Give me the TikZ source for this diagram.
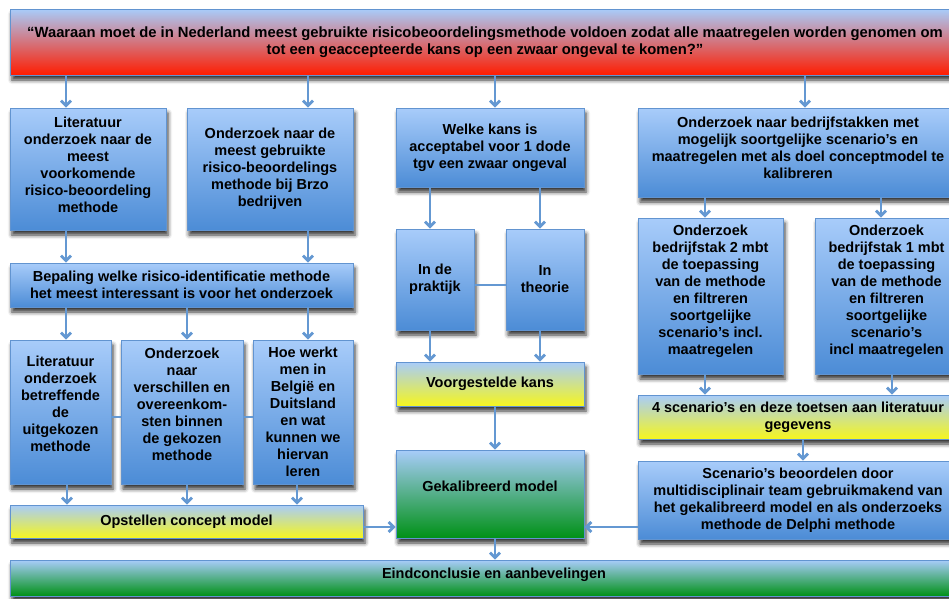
\documentclass[tikz,border=0pt]{standalone}
\usepackage{fontspec}
\setmainfont{Liberation Sans}
\usetikzlibrary{arrows.meta,shadows.blur}

\definecolor{btop}{RGB}{168,204,250}
\definecolor{bblue}{RGB}{76,140,214}
\definecolor{bred}{RGB}{255,28,0}
\definecolor{byel}{RGB}{246,246,30}
\definecolor{bgrn}{RGB}{0,145,22}
\definecolor{bdr}{RGB}{98,148,208}
\definecolor{arrc}{RGB}{100,152,210}

\newcommand\boxfont{\bfseries\fontsize{14.5}{17}\selectfont}
\newcommand\titlefont{\bfseries\fontsize{14.8}{17}\selectfont}

\tikzset{
  box/.style={draw=bdr, line width=0.7pt, inner sep=0pt, align=center, font=\boxfont,
    blur shadow={shadow xshift=2pt, shadow yshift=-5pt, shadow blur radius=4pt, shadow opacity=80}},
  bluebox/.style={box, top color=btop, bottom color=bblue},
  redbox/.style={box, top color=btop, bottom color=bred, font=\titlefont},
  yelbox/.style={box, top color=btop, bottom color=byel},
  grnbox/.style={box, top color=btop, bottom color=bgrn},
  txt/.style={align=center, font=\boxfont, inner sep=0pt},
  arr/.style={draw=arrc, line width=2.8pt, -{Straight Barb[length=5pt,width=10pt]}},
  lnk/.style={draw=arrc, line width=2.8pt},
}

\begin{document}
\begin{tikzpicture}[x=1pt,y=-1pt]
\useasboundingbox (0,0) rectangle (949,598);
\clip (0,0) rectangle (949,598);

% column and row guides for the connectors
\coordinate (k66) at (66,0);
\coordinate (k67) at (67,0);
\coordinate (k187) at (187,0);
\coordinate (k297) at (297,0);
\coordinate (k308) at (308,0);
\coordinate (k430) at (430,0);
\coordinate (k495) at (495,0);
\coordinate (k540) at (540,0);
\coordinate (k705) at (705,0);
\coordinate (k803) at (803,0);
\coordinate (k805) at (805,0);
\coordinate (k881) at (881,0);
\coordinate (k892) at (892,0);
\coordinate (r285) at (0,285);
\coordinate (r417) at (0,417);
\coordinate (r527) at (0,527);

% research question
\node[redbox, minimum width=950pt, minimum height=66pt] (vraag) at (485,42)
  {“Waaraan moet de in Nederland meest gebruikte risicobeoordelingsmethode voldoen zodat alle maatregelen worden genomen om\\
   tot een geaccepteerde kans op een zwaar ongeval te komen?”};

% left branch
\node[bluebox, minimum width=156pt, minimum height=122pt,
  label={[txt,yshift=4.5pt]center:{Literatuur\\onderzoek naar de\\meest\\voorkomende\\risico-beoordeling\\methode}}]
  (litmeest) at (88,169) {};
\node[bluebox, minimum width=166pt, minimum height=122pt] (brzo) at (270,169)
  {Onderzoek naar de\\meest gebruikte\\risico-beoordelings\\methode bij Brzo\\bedrijven};
\node[bluebox, minimum width=343pt, minimum height=44pt] (bepaling) at (181.5,285)
  {Bepaling welke risico-identificatie methode\\het meest interessant is voor het onderzoek};
\node[bluebox, minimum width=101pt, minimum height=144pt,
  label={[txt,yshift=8pt]center:{Literatuur\\onderzoek\\betreffende\\de\\uitgekozen\\methode}}]
  (litgekozen) at (60.5,412) {};
\node[bluebox, minimum width=122pt, minimum height=144pt,
  label={[txt,yshift=8pt]center:{Onderzoek\\naar\\verschillen en\\overeenkom-\\sten binnen\\de gekozen\\methode}}]
  (verschil) at (182,412) {};
\node[bluebox, minimum width=100pt, minimum height=144pt] (buitenland) at (303,412)
  {Hoe werkt\\men in\\België en\\Duitsland\\en wat\\kunnen we\\hiervan\\leren};
\node[yelbox, minimum width=353pt, minimum height=33pt] (concept) at (186.5,521.5)
  {Opstellen concept model};

% middle branch
\node[bluebox, minimum width=188pt, minimum height=79pt] (kans) at (490,147.5)
  {Welke kans is\\acceptabel voor 1 dode\\tgv een zwaar ongeval};
\node[bluebox, minimum width=78pt, minimum height=101pt] (praktijk) at (435,279.5)
  {In de\\praktijk};
\node[bluebox, minimum width=78pt, minimum height=101pt] (theorie) at (545,279.5)
  {In\\theorie};
\node[yelbox, minimum width=188pt, minimum height=44pt] (voorstel) at (490,384)
  {Voorgestelde kans};
\node[grnbox, minimum width=188pt, minimum height=88pt,
  label={[txt,yshift=8pt]center:{Gekalibreerd model}}]
  (gekal) at (490,494) {};

% right branch
\node[bluebox, minimum width=320pt, minimum height=89pt,
  label={[txt,yshift=5pt]center:{Onderzoek naar bedrijfstakken met\\mogelijk soortgelijke scenario’s en\\maatregelen met als doel conceptmodel te\\kalibreren}}]
  (takken) at (798,152.5) {};
\node[bluebox, minimum width=145pt, minimum height=156pt,
  label={[txt,yshift=5pt]center:{Onderzoek\\bedrijfstak 2 mbt\\de toepassing\\van de methode\\en filtreren\\soortgelijke\\scenario’s incl.\\maatregelen}}]
  (tak2) at (710.5,296) {};
\node[bluebox, minimum width=143pt, minimum height=156pt,
  label={[txt,yshift=5pt]center:{Onderzoek\\bedrijfstak 1 mbt\\de toepassing\\van de methode\\en filtreren\\soortgelijke\\scenario’s\\incl maatregelen}}]
  (tak1) at (886.5,296) {};
\node[yelbox, minimum width=320pt, minimum height=44pt] (vier) at (798,417)
  {4 scenario’s en deze toetsen aan literatuur\\gegevens};
\node[bluebox, minimum width=320pt, minimum height=78pt] (delphi) at (798,500)
  {Scenario’s beoordelen door\\multidisciplinair team gebruikmakend van\\het gekalibreerd model en als onderzoeks\\methode de Delphi methode};

% conclusion
\node[grnbox, minimum width=968pt, minimum height=36pt,
  label={[txt,yshift=3pt]center:{Eindconclusie en aanbevelingen}}]
  (eind) at (494,578) {};

% connectors from the research question
\draw[arr] (vraag.south -| k66) -- (litmeest.north -| k66);
\draw[arr] (vraag.south -| k308) -- (brzo.north -| k308);
\draw[arr] (vraag.south -| k495) -- (kans.north -| k495);
\draw[arr] (vraag.south -| k805) -- (takken.north -| k805);

% left branch connectors
\draw[arr] (litmeest.south -| k66) -- (bepaling.north -| k66);
\draw[arr] (brzo.south -| k308) -- (bepaling.north -| k308);
\draw[arr] (bepaling.south -| k66) -- (litgekozen.north -| k66);
\draw[arr] (bepaling.south -| k187) -- (verschil.north -| k187);
\draw[arr] (bepaling.south -| k308) -- (buitenland.north -| k308);
\draw[lnk] (litgekozen.east |- r417) -- (verschil.west |- r417);
\draw[lnk] (verschil.east |- r417) -- (buitenland.west |- r417);
\draw[arr] (litgekozen.south -| k67) -- (concept.north -| k67);
\draw[arr] (verschil.south -| k187) -- (concept.north -| k187);
\draw[arr] (buitenland.south -| k297) -- (concept.north -| k297);
\draw[arr] (concept.east |- r527) -- (gekal.west |- r527);

% middle branch connectors
\draw[arr] (kans.south -| k430) -- (praktijk.north -| k430);
\draw[arr] (kans.south -| k540) -- (theorie.north -| k540);
\draw[lnk] (praktijk.east |- r285) -- (theorie.west |- r285);
\draw[arr] (praktijk.south -| k430) -- (voorstel.north -| k430);
\draw[arr] (theorie.south -| k540) -- (voorstel.north -| k540);
\draw[arr] (voorstel.south -| k495) -- (gekal.north -| k495);
\draw[arr] (gekal.south -| k495) -- (eind.north -| k495);

% right branch connectors
\draw[arr] (takken.south -| k705) -- (tak2.north -| k705);
\draw[arr] (takken.south -| k881) -- (tak1.north -| k881);
\draw[arr] (tak2.south -| k705) -- (vier.north -| k705);
\draw[arr] (tak1.south -| k892) -- (vier.north -| k892);
\draw[arr] (vier.south -| k803) -- (delphi.north -| k803);
\draw[arr] (delphi.west |- r527) -- (gekal.east |- r527);
\end{tikzpicture}
\end{document}
